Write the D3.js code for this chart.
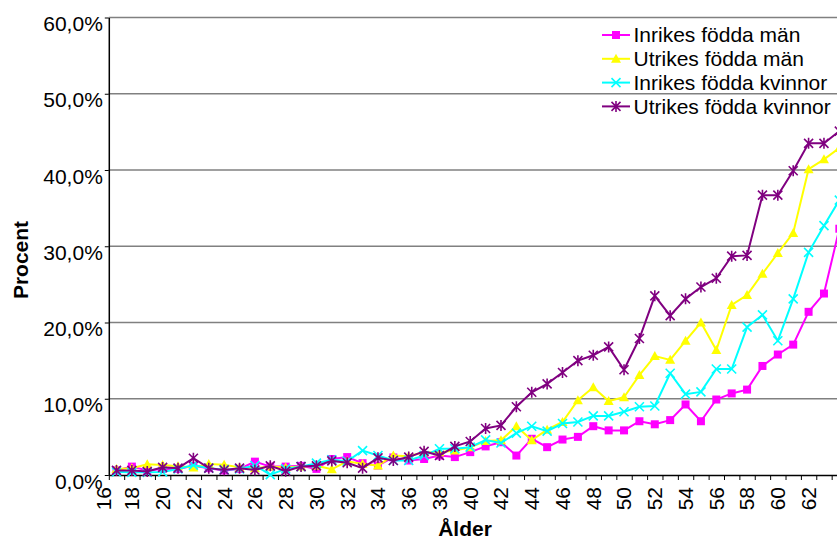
<!DOCTYPE html>
<html>
<head>
<meta charset="utf-8">
<script src="https://cdn.jsdelivr.net/npm/d3@7"></script>
<style>
  body { margin: 0; background: #fff; }
  svg { display: block; font-family: "Liberation Sans", Arial, sans-serif; }
</style>
</head>
<body>
<svg id="chart" width="837" height="539"></svg>
<script>
// ages (category axis), one point per age
var ages = [17, 18, 19, 20, 21, 22, 23, 24, 25, 26, 27, 28, 29, 30, 31, 32, 33, 34, 35, 36, 37, 38, 39, 40,
	41, 42, 43, 44, 45, 46, 47, 48, 49, 50, 51, 52, 53, 54, 55, 56, 57, 58, 59, 60, 61, 62, 63, 64];

var ageLabels = [16, 18, 20, 22, 24, 26, 28, 30, 32, 34, 36, 38, 40, 42, 44, 46, 48, 50, 52, 54, 56, 58, 60, 62];

var yTicks = [0, 10, 20, 30, 40, 50, 60];

var seriesNames = ['Inrikes födda män', 'Utrikes födda män', 'Inrikes födda kvinnor', 'Utrikes födda kvinnor'];

var inrikesMan = [0.6, 1.1, 0.6, 0.8, 0.8, 1.2, 0.9, 0.6, 0.8, 1.75, 1.1, 1.1, 1.2, 0.8, 2.1, 2.35, 1.55, 1.25, 2.3, 1.9, 2.1, 2.55, 2.35, 3.0,
	3.75, 4.3, 2.55, 4.75, 3.65, 4.65, 5.0, 6.4, 5.85, 5.85, 7.05, 6.65, 7.2, 9.25, 7.05, 9.9, 10.7, 11.2, 14.3, 15.8, 17.1, 21.4, 23.8, 32.3];

var utrikesMan = [0.8, 0.9, 1.4, 1.3, 1.15, 1.0, 1.45, 1.35, 1.0, 0.9, 1.1, 1.0, 1.1, 1.2, 0.75, 1.8, 1.45, 1.25, 2.55, 2.45, 3.0, 3.0, 3.2, 3.65,
	4.45, 4.55, 6.4, 4.55, 5.95, 6.95, 9.8, 11.5, 9.7, 10.2, 13.1, 15.6, 15.1, 17.6, 20.0, 16.4, 22.3, 23.6, 26.4, 29.1, 31.75, 40.1, 41.4, 42.9];

var inrikesKvinnor = [0.4, 0.35, 0.35, 0.4, 0.8, 1.3, 0.9, 0.7, 0.8, 1.25, 0.05, 0.8, 1.1, 1.55, 2.0, 1.8, 3.2, 2.55, 1.9, 1.9, 2.55, 3.45, 3.45, 3.65,
	4.6, 4.2, 5.5, 6.4, 5.75, 6.75, 6.95, 7.75, 7.75, 8.3, 8.95, 9.05, 13.35, 10.6, 10.9, 13.9, 13.9, 19.4, 21.0, 17.6, 23.1, 29.2, 32.7, 36.05];

var utrikesKvinnor = [0.6, 0.6, 0.45, 1.0, 0.9, 2.2, 0.9, 0.65, 0.9, 0.65, 1.2, 0.5, 1.1, 1.2, 1.85, 1.6, 0.9, 2.25, 1.9, 2.35, 3.1, 2.55, 3.75, 4.4,
	6.1, 6.5, 8.95, 10.85, 11.95, 13.45, 15.0, 15.7, 16.8, 13.8, 17.9, 23.5, 20.9, 23.1, 24.65, 25.8, 28.7, 28.8, 36.7, 36.7, 39.9, 43.5, 43.5, 45.1];

var colors = ['#ff00ff', '#ffff00', '#00ffff', '#800080'];
var markers = ['square', 'triangle', 'cross', 'star'];

var series = [inrikesMan, utrikesMan, inrikesKvinnor, utrikesKvinnor].map(function(values, i) {
	return {
		name: seriesNames[i],
		color: colors[i],
		marker: markers[i],
		points: values.map(function(v, j) { return { age: ages[j], value: v }; })
	};
});

var svg = d3.select('#chart');
var plotLeft = 108.8,
	plotBottom = 475,
	plotTop = 17.5,
	step = 15.38;

var x = d3.scaleLinear()
	.domain([16.5, 64.5])
	.range([plotLeft, plotLeft + 48 * step]);

var y = d3.scaleLinear()
	.domain([0, 60])
	.range([plotBottom, plotTop]);

svg.append('rect')
	.attr('width', 837)
	.attr('height', 539)
	.attr('fill', '#fff');

// gridlines
svg.append('g')
	.selectAll('line')
	.data(yTicks.slice(1))
	.enter()
	.append('line')
	.attr('x1', plotLeft)
	.attr('x2', 837)
	.attr('y1', function(d) { return y(d); })
	.attr('y2', function(d) { return y(d); })
	.attr('stroke', '#808080')
	.attr('stroke-width', 1.4);

// y axis
var yAxis = svg.append('g')
	.attr('transform', 'translate(' + plotLeft + ',0)')
	.call(d3.axisLeft(y)
		.tickValues(yTicks)
		.tickSize(4)
		.tickSizeOuter(0)
		.tickPadding(2)
		.tickFormat(function(d) { return d3.format('.1f')(d).replace('.', ',') + '%'; }));
yAxis.select('.domain').attr('stroke', '#000').attr('stroke-width', 1.5);
yAxis.selectAll('.tick line').attr('stroke', '#000');
yAxis.selectAll('.tick text')
	.attr('font-size', 21)
	.attr('font-family', '"Liberation Sans", Arial, sans-serif')
	.attr('fill', '#000')
	.attr('dy', '0.32em')
	.attr('y', 6.5);

// x axis: ticks between categories
var halfSteps = ages.map(function(a) { return a - 0.5; }).concat([64.5]);
var xAxis = svg.append('g')
	.attr('transform', 'translate(0,' + plotBottom + ')')
	.call(d3.axisBottom(x)
		.tickValues(halfSteps)
		.tickSize(5)
		.tickSizeOuter(0)
		.tickFormat(''));
xAxis.select('.domain').attr('stroke', '#000').attr('stroke-width', 1.5);
xAxis.selectAll('.tick line').attr('stroke', '#000');

svg.append('g')
	.selectAll('text')
	.data(ageLabels)
	.enter()
	.append('text')
	.attr('transform', function(d) {
		var px = Math.max(x(d), x(16.5) - 5);
		return 'translate(' + px + ',' + (plotBottom + 12) + ') rotate(-90)';
	})
	.attr('text-anchor', 'end')
	.attr('dy', '0.35em')
	.attr('font-size', 21)
	.text(function(d) { return d; });

// axis titles
svg.append('text')
	.attr('x', 465)
	.attr('y', 536)
	.attr('text-anchor', 'middle')
	.attr('font-size', 21)
	.attr('font-weight', 'bold')
	.text('Ålder');

svg.append('text')
	.attr('transform', 'translate(28,260) rotate(-90)')
	.attr('text-anchor', 'middle')
	.attr('font-size', 21)
	.attr('font-weight', 'bold')
	.text('Procent');

function drawMarker(g, type, color) {
	if (type === 'square') {
		g.append('rect')
			.attr('x', -4).attr('y', -4)
			.attr('width', 8).attr('height', 8)
			.attr('fill', color);
	} else if (type === 'triangle') {
		g.append('path')
			.attr('d', 'M0,-5L5,4L-5,4Z')
			.attr('fill', color);
	} else if (type === 'cross') {
		g.append('path')
			.attr('d', 'M-4.5,-4.5L4.5,4.5M-4.5,4.5L4.5,-4.5')
			.attr('stroke', color)
			.attr('stroke-width', 1.6);
	} else {
		g.append('path')
			.attr('d', 'M-4.5,-4.5L4.5,4.5M-4.5,4.5L4.5,-4.5M0,-5.5L0,5.5')
			.attr('stroke', color)
			.attr('stroke-width', 1.6);
	}
}

var line = d3.line()
	.x(function(d) { return x(d.age); })
	.y(function(d) { return y(d.value); });

series.forEach(function(s) {
	var g = svg.append('g');
	g.append('path')
		.datum(s.points)
		.attr('d', line)
		.attr('fill', 'none')
		.attr('stroke', s.color)
		.attr('stroke-width', 2);
	g.selectAll('.pt')
		.data(s.points)
		.enter()
		.append('g')
		.attr('class', 'pt')
		.attr('transform', function(d) { return 'translate(' + x(d.age) + ',' + y(d.value) + ')'; })
		.each(function() { drawMarker(d3.select(this), s.marker, s.color); });
});

// legend
var legend = svg.append('g');
series.forEach(function(s, i) {
	var ly = 35 + i * 23.8;
	legend.append('line')
		.attr('x1', 602).attr('x2', 630)
		.attr('y1', ly).attr('y2', ly)
		.attr('stroke', s.color)
		.attr('stroke-width', 2);
	drawMarker(legend.append('g').attr('transform', 'translate(616,' + ly + ')'), s.marker, s.color);
	legend.append('text')
		.attr('x', 633.5)
		.attr('y', ly)
		.attr('dy', '0.35em')
		.attr('font-size', 21)
		.text(s.name);
});
</script>
</body>
</html>
